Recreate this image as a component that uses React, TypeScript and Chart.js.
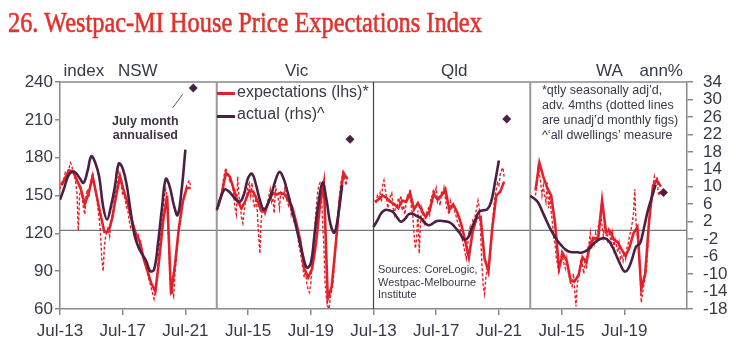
import React, { useEffect, useRef } from "react";
import { Chart, registerables } from "chart.js";

Chart.register(...registerables);

// ---------- DATA ----------
const panelNames = ["NSW", "Vic", "Qld", "WA"];
const panelMonths = 120; // each panel spans Jul-13 .. Jul-23 (months from Jul-13)

// x-axis tick months (global, across the four panels) and labels
const tickMonths = [0, 48, 96, 144, 192, 240, 288, 336, 384, 432];
const tickLabels = ["Jul-13", "Jul-17", "Jul-21", "Jul-15", "Jul-19", "Jul-13", "Jul-17", "Jul-21", "Jul-15", "Jul-19"];
const leftTicks = [60, 90, 120, 150, 180, 210, 240];
const rightTicks = [-18, -14, -10, -6, -2, 2, 6, 10, 14, 18, 22, 26, 30, 34];

// actual house price growth (rhs, ann%), quarterly, months from Jul-13
const actualMonths = [0, 3, 6, 9, 12, 15, 18, 21, 24, 27, 30, 33, 36, 39, 42, 45, 48, 51, 54, 57, 60, 63, 66, 69, 72, 75, 78, 81, 84, 87, 90, 93, 96];
const nswActual = [7.0, 9.5, 12.3, 13.4, 13.2, 12.0, 10.9, 13.5, 17.0, 15.5, 12.3, 5.5, 2.5, 5.5, 10.0, 15.3, 14.2, 10.5, 4.5, -1.0, -3.8, -5.5, -7.0, -9.3, -9.0, -3.0, 5.0, 11.8, 10.0, 6.0, 3.5, 9.0, 18.5];
const vicActual = [4.7, 7.5, 9.4, 9.0, 8.0, 7.0, 6.6, 8.5, 12.0, 13.0, 10.5, 7.0, 4.8, 6.0, 8.5, 11.5, 13.4, 12.0, 9.0, 5.5, 1.8, -2.0, -5.8, -8.5, -7.5, -0.5, 6.5, 11.0, 7.0, 1.5, -0.5, 3.5, 10.4];
const qldActual = [0.8, 2.3, 4.0, 4.7, 4.6, 4.2, 3.0, 2.0, 2.6, 3.7, 3.8, 3.3, 2.9, 1.8, 1.2, 1.5, 2.1, 2.2, 2.1, 2.0, 1.5, 0.5, -0.6, -2.0, -1.8, 0.3, 2.5, 4.3, 4.6, 4.8, 6.5, 11.0, 16.0];
const waActual = [7.9, 7.3, 6.4, 4.5, 2.5, 0.6, -1.0, -2.4, -3.5, -4.4, -4.9, -5.0, -5.0, -5.1, -4.8, -4.2, -3.2, -2.4, -1.9, -1.8, -2.4, -3.8, -5.8, -7.8, -9.4, -8.8, -6.5, -3.7, -3.0, 0.5, 4.5, 7.5, 10.5];

// expectations index (lhs), quarterly s.a., advanced 4 months
const expMonths = [1, 4, 7, 10, 13, 16, 19, 22, 25, 28, 31, 34, 37, 40, 43, 46, 49, 52, 55, 58, 61, 64, 67, 70, 73, 76, 79, 82, 85, 88, 91, 94, 97, 100];
const nswExp = [158, 164, 170, 169, 162, 155, 143, 152, 165, 150, 135, 121, 121, 132, 150, 165, 153, 143, 130, 120, 114, 100, 90, 80, 74, 100, 130, 150, 72, 95, 124, 145, 156, 156];
const vicExp = [141, 152, 168, 165, 155, 145, 140, 146, 154, 153, 146, 138, 137, 146, 152, 151, 152, 151, 146, 140, 128, 114, 92, 85, 92, 112, 142, 160, 68, 78, 110, 145, 168, 163];
const qldExp = [145, 147, 150, 148, 145, 143, 140, 146, 145, 152, 139, 144, 138, 133, 138, 151, 147, 150, 155, 139, 143, 137, 128, 115, 101, 122, 132, 133, 100, 90, 125, 150, 153, 161];
const waExp = [null, 154, 176, 165, 156, 150, 128, 92, 104, 98, 82, 82, 87, 101, 97, 112, 116, 116, 146, 121, 122, 115, 113, 107, 102, 109, 120, 125, 76, 88, 130, 158, 162, 157];

// unadjusted monthly expectations (dotted), months 0..100
const nswMonthly = [155, 160, 158, 163, 168, 165, 170, 172, 176, 174, 168, 166, 160, 152, 122, 150, 156, 148, 140, 135, 150, 155, 148, 158, 163, 168, 160, 155, 150, 140, 132, 120, 100, 90, 110, 118, 122, 125, 118, 128, 135, 142, 150, 158, 160, 168, 163, 158, 150, 152, 146, 140, 138, 130, 125, 128, 122, 118, 120, 115, 118, 110, 112, 104, 100, 98, 92, 88, 84, 80, 76, 72, 68, 74, 80, 95, 110, 120, 132, 140, 150, 155, 148, 120, 90, 72, 74, 70, 88, 100, 112, 122, 130, 140, 145, 150, 152, 158, 160, 162, 157];
const vicMonthly = [138, 140, 146, 150, 155, 162, 168, 172, 166, 168, 160, 162, 158, 150, 140, 135, 165, 150, 142, 132, 128, 138, 145, 150, 158, 160, 150, 160, 145, 140, 150, 138, 120, 104, 130, 140, 138, 135, 140, 145, 150, 155, 145, 148, 136, 158, 150, 148, 140, 152, 150, 148, 155, 150, 145, 142, 148, 135, 140, 130, 132, 125, 118, 110, 105, 98, 92, 85, 90, 80, 75, 73, 80, 95, 108, 125, 138, 150, 158, 160, 156, 130, 110, 80, 68, 62, 60, 70, 75, 80, 95, 110, 125, 138, 150, 160, 165, 170, 162, 158, 165];
const qldMonthly = [null, null, 144, 150, 148, 152, 145, 158, 162, 155, 148, 140, 145, 150, 152, 140, 135, 142, 140, 148, 145, 150, 138, 142, 135, 145, 150, 148, 155, 140, 135, 120, 108, 115, 138, 104, 130, 140, 135, 128, 132, 138, 140, 135, 148, 150, 155, 152, 156, 145, 148, 142, 152, 150, 156, 148, 140, 138, 135, 145, 140, 142, 138, 135, 130, 128, 125, 120, 115, 110, 105, 100, 110, 120, 125, 118, 130, 128, 135, 140, 146, 140, 120, 95, 78, 72, 85, 92, 88, 100, 110, 125, 140, 150, 155, 160, 158, 167, 170, 172, 165];
const waMonthly = [null, null, null, null, 150, 158, 172, 168, 160, 150, 158, 150, 145, 160, 140, 150, 138, 128, 115, 112, 100, 95, 88, 98, 105, 100, 95, 92, 100, 90, 85, 80, 78, 88, 75, 62, 80, 85, 92, 100, 95, 88, 100, 92, 108, 112, 120, 108, 118, 112, 120, 115, 125, 130, 138, 125, 118, 128, 120, 115, 125, 118, 112, 120, 108, 115, 110, 105, 112, 100, 102, 98, 105, 100, 108, 112, 118, 122, 128, 135, 155, 128, 118, 110, 90, 65, 72, 80, 85, 92, 110, 128, 140, 150, 158, 165, 160, 165, 152, 150, 155];

// July month annualised (rhs)
const julyMonth = 102;
const julyAnnualised = [32.6, 20.9, 25.5, 8.7];

// ---------- STYLE ----------
const RED = "#E6202A";
const PURPLE = "#4A2142";
const AXIS = "#8a8a8a";
const TEXT = "#363a48";
const SANS = "'Liberation Sans', Arial, sans-serif";

const actualSets = [nswActual, vicActual, qldActual, waActual];
const expSets = [nswExp, vicExp, qldExp, waExp];
const monthlySets = [nswMonthly, vicMonthly, qldMonthly, waMonthly];

function toPoints(months: number[], values: (number | null)[], panel: number) {
  return values.map((v, i) => ({ x: panel * panelMonths + months[i], y: v }));
}

export default function App() {
  const ref = useRef<HTMLCanvasElement | null>(null);

  useEffect(() => {
    if (!ref.current) return;
    const monthIdx = nswMonthly.map((_, i) => i);
    const datasets: any[] = [];
    panelNames.forEach((_, p) => {
      datasets.push({
        label: "monthly-" + p,
        data: toPoints(monthIdx, monthlySets[p], p),
        yAxisID: "y",
        borderColor: RED,
        borderWidth: 1.4,
        borderDash: [3, 2],
        pointRadius: 0,
        tension: 0,
        spanGaps: false,
        order: 3,
      });
      datasets.push({
        label: "expectations-" + p,
        data: toPoints(expMonths, expSets[p], p),
        yAxisID: "y",
        borderColor: RED,
        borderWidth: 2.6,
        pointRadius: 0,
        tension: 0,
        order: 2,
      });
      datasets.push({
        label: "actual-" + p,
        data: toPoints(actualMonths, actualSets[p], p),
        yAxisID: "y2",
        borderColor: PURPLE,
        borderWidth: 2.6,
        pointRadius: 0,
        tension: 0.4,
        order: 1,
      });
    });
    datasets.push({
      label: "july",
      data: julyAnnualised.map((v, p) => ({ x: p * panelMonths + julyMonth, y: v })),
      yAxisID: "y2",
      showLine: false,
      pointStyle: "rectRot",
      pointRadius: 4.5,
      backgroundColor: PURPLE,
      borderColor: PURPLE,
      borderWidth: 0,
      order: 0,
    });

    const framePlugin = {
      id: "frame",
      beforeDatasetsDraw(chart: any) {
        const { ctx, chartArea, scales } = chart;
        ctx.save();
        const y0 = scales.y2.getPixelForValue(0);
        ctx.strokeStyle = "#7a7a7a";
        ctx.lineWidth = 1.3;
        ctx.beginPath();
        ctx.moveTo(chartArea.left, y0);
        ctx.lineTo(chartArea.right, y0);
        ctx.stroke();
        ctx.strokeStyle = AXIS;
        ctx.lineWidth = 1.5;
        ctx.beginPath();
        ctx.moveTo(chartArea.left, chartArea.top);
        ctx.lineTo(chartArea.right, chartArea.top);
        ctx.stroke();
        [1, 2, 3].forEach((p) => {
          const x = scales.x.getPixelForValue(p * panelMonths);
          ctx.strokeStyle = p === 2 ? "#444" : "#999";
          ctx.lineWidth = p === 2 ? 1.2 : 2;
          ctx.beginPath();
          ctx.moveTo(x, chartArea.top);
          ctx.lineTo(x, chartArea.bottom);
          ctx.stroke();
        });
        ctx.restore();
      },
      afterDatasetsDraw(chart: any) {
        const { ctx, scales } = chart;
        ctx.save();
        ctx.strokeStyle = "#555";
        ctx.lineWidth = 1;
        ctx.beginPath();
        ctx.moveTo(scales.x.getPixelForValue(86.3), scales.y2.getPixelForValue(28.1));
        ctx.lineTo(scales.x.getPixelForValue(94), scales.y2.getPixelForValue(31.2));
        ctx.stroke();
        ctx.restore();
      },
    };

    const chart = new Chart(ref.current, {
      type: "line",
      data: { datasets },
      plugins: [framePlugin],
      options: {
        animation: false,
        responsive: false,
        devicePixelRatio: 1,
        layout: { padding: { top: 82, left: 0, right: 0, bottom: 0 } },
        plugins: { legend: { display: false }, tooltip: { enabled: false }, title: { display: false } },
        scales: {
          x: {
            type: "linear",
            min: 0,
            max: panelMonths * 4,
            afterBuildTicks: (s: any) => {
              s.ticks = tickMonths.map((v) => ({ value: v }));
            },
            afterFit: (s: any) => {
              s.height = 42;
            },
            ticks: {
              autoSkip: false,
              maxRotation: 0,
              padding: 6,
              color: TEXT,
              font: { family: SANS, size: 17 },
              callback: (v: any) => {
                const i = tickMonths.indexOf(Number(v));
                return i >= 0 ? tickLabels[i] : "";
              },
            },
            grid: { display: true, drawOnChartArea: false, drawTicks: true, tickLength: 6, color: AXIS, lineWidth: 1.5 },
            border: { display: true, color: AXIS, width: 1.5 },
          },
          y: {
            type: "linear",
            position: "left",
            min: 60,
            max: 240,
            afterBuildTicks: (s: any) => {
              s.ticks = leftTicks.map((v) => ({ value: v }));
            },
            afterFit: (s: any) => {
              s.width = 60;
            },
            ticks: { autoSkip: false, padding: 2, color: TEXT, font: { family: SANS, size: 17 } },
            grid: { display: true, drawOnChartArea: false, drawTicks: true, tickLength: 5, color: AXIS, lineWidth: 1.5 },
            border: { display: true, color: AXIS, width: 1.5 },
          },
          y2: {
            type: "linear",
            position: "right",
            min: -18,
            max: 34,
            afterBuildTicks: (s: any) => {
              s.ticks = rightTicks.map((v) => ({ value: v }));
            },
            afterFit: (s: any) => {
              s.width = 59;
            },
            ticks: { autoSkip: false, padding: 10, color: TEXT, font: { family: SANS, size: 17 } },
            grid: { display: true, drawOnChartArea: false, drawTicks: true, tickLength: 6, color: AXIS, lineWidth: 1.5 },
            border: { display: true, color: AXIS, width: 1.5 },
          },
        },
      } as any,
    });
    return () => chart.destroy();
  }, []);

  const abs = (left: number, top: number, extra: any = {}) => ({
    position: "absolute" as const,
    left,
    top,
    whiteSpace: "nowrap" as const,
    ...extra,
  });

  const head = { fontFamily: SANS, fontSize: 17, lineHeight: "17px", color: TEXT };
  const note = { fontFamily: SANS, fontSize: 12.5, lineHeight: "15px", color: TEXT };

  return (
    <div style={{ position: "fixed", left: 0, top: 0, width: 746, height: 351, background: "#fff", overflow: "hidden" }}>
      <canvas ref={ref} width={746} height={351} style={{ position: "absolute", left: 0, top: 0, width: 746, height: 351, display: "block" }} />
      <div
        style={abs(8, 6.6, {
          fontFamily: "'Liberation Serif', 'Times New Roman', serif",
          fontSize: 30,
          lineHeight: "30px",
          color: "#E4312B",
          WebkitTextStroke: "0.6px #E4312B",
          transform: "scaleX(0.812)",
          transformOrigin: "left top",
        })}
      >
        26. Westpac-MI House Price Expectations Index
      </div>

      <div style={abs(63.5, 62, head)}>index</div>
      <div style={abs(118, 62, head)}>NSW</div>
      <div style={abs(285, 62, head)}>Vic</div>
      <div style={abs(441, 62, head)}>Qld</div>
      <div style={abs(596, 62, head)}>WA</div>
      <div style={abs(639.5, 62, head)}>ann%</div>

      <div style={abs(217, 92, { width: 18, height: 3, background: RED })} />
      <div style={abs(237, 84, { fontFamily: SANS, fontSize: 16, lineHeight: "16px", color: TEXT })}>expectations (lhs)*</div>
      <div style={abs(217, 114.5, { width: 18, height: 3, background: PURPLE })} />
      <div style={abs(237, 106, { fontFamily: SANS, fontSize: 16, lineHeight: "16px", color: TEXT })}>actual (rhs)^</div>

      <div style={abs(112, 113.7, { fontFamily: SANS, fontSize: 12.5, fontWeight: "bold", lineHeight: "14px", color: "#3d3440", textAlign: "center" })}>
        July month
        <br />
        annualised
      </div>

      <div style={abs(542, 83, note)}>
        *qtly seasonally adj’d,
        <br />
        adv. 4mths (dotted lines
        <br />
        are unadj’d monthly figs)
        <br />
        ^‘all dwellings’ measure
      </div>

      <div style={abs(378, 263.3, { fontFamily: SANS, fontSize: 11, lineHeight: "12.5px", color: TEXT })}>
        Sources: CoreLogic,
        <br />
        Westpac-Melbourne
        <br />
        Institute
      </div>
    </div>
  );
}
